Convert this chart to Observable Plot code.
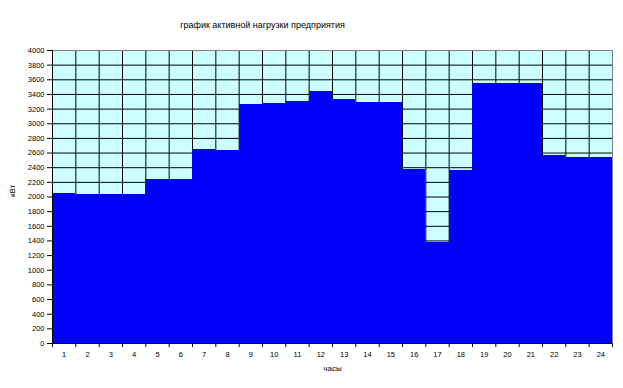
<!DOCTYPE html>
<html><head><meta charset="utf-8">
<script src="https://cdn.jsdelivr.net/npm/d3@7"></script>
<script src="https://cdn.jsdelivr.net/npm/@observablehq/plot@0.6"></script>
<style>body{margin:0;background:#fff;} #chart{width:623px;height:388px;}</style>
</head><body><div id="chart"></div>
<script>
const hours = [1,2,3,4,5,6,7,8,9,10,11,12,13,14,15,16,17,18,19,20,21,22,23,24];
const loadKW = [2050,2040,2040,2040,2240,2240,2650,2630,3260,3280,3300,3445,3335,3290,3290,2380,1380,2365,3555,3555,3555,2560,2545,2545];
const yTicks = [0,200,400,600,800,1000,1200,1400,1600,1800,2000,2200,2400,2600,2800,3000,3200,3400,3600,3800,4000];
const hourEdges = [0.5,1.5,2.5,3.5,4.5,5.5,6.5,7.5,8.5,9.5,10.5,11.5,12.5,13.5,14.5,15.5,16.5,17.5,18.5,19.5,20.5,21.5,22.5,23.5,24.5];
const title = "график активной нагрузки предприятия";
const xLabel = "часы";
const yLabel = "кВт";

const data = hours.map((h, i) => ({h, v: loadKW[i]}));
const innerEdges = hourEdges.slice(1, -1);
const innerY = yTicks.filter(t => t > 0 && t < 4000);

const plot = Plot.plot({
  width: 623, height: 388,
  marginTop: 50, marginBottom: 45, marginLeft: 52, marginRight: 11,
  style: {fontFamily: "Arial, 'Liberation Sans', sans-serif", fontSize: "8px", background: "#fff", color: "#000"},
  x: {domain: [0.5, 24.5], axis: null, label: null},
  y: {domain: [0, 4000], axis: null, label: null},
  marks: [
    Plot.frame({fill: "#CCFFFF"}),
    Plot.ruleY(innerY, {stroke: "#000", strokeWidth: 1}),
    Plot.ruleX(innerEdges, {stroke: "#000", strokeWidth: 1}),
    Plot.rectY(data, {x1: d => d.h - 0.5, x2: d => d.h + 0.5, y1: 0, y2: "v", fill: "#0000FF", shapeRendering: "crispEdges"}),
    Plot.frame({stroke: "#808080"}),
    Plot.ruleX([0.5], {stroke: "#000"}),
    Plot.ruleY([0], {stroke: "#000"}),
    Plot.axisY({ticks: yTicks, tickSize: 5, tickPadding: 3, tickFormat: d => String(d), fontSize: 7.5, stroke: "#000", fill: "#000", label: null}),
    Plot.axisX({ticks: hourEdges, tickSize: 4, tickFormat: () => "", stroke: "#000", label: null}),
    Plot.axisX({ticks: hours, tickSize: 0, tickPadding: 8, tickFormat: d => String(d), fontSize: 7.5, fill: "#000", label: null}),
    Plot.text([title], {frameAnchor: "top", dx: -70, dy: -29, fontSize: 9, fill: "#000"}),
    Plot.text([xLabel], {frameAnchor: "bottom", dy: 27, fontSize: 8, fill: "#000"}),
    Plot.text([yLabel], {frameAnchor: "left", dx: -40, rotate: -90, fontSize: 8, fill: "#000"})
  ]
});
document.getElementById("chart").append(plot);
</script>
</body></html>
